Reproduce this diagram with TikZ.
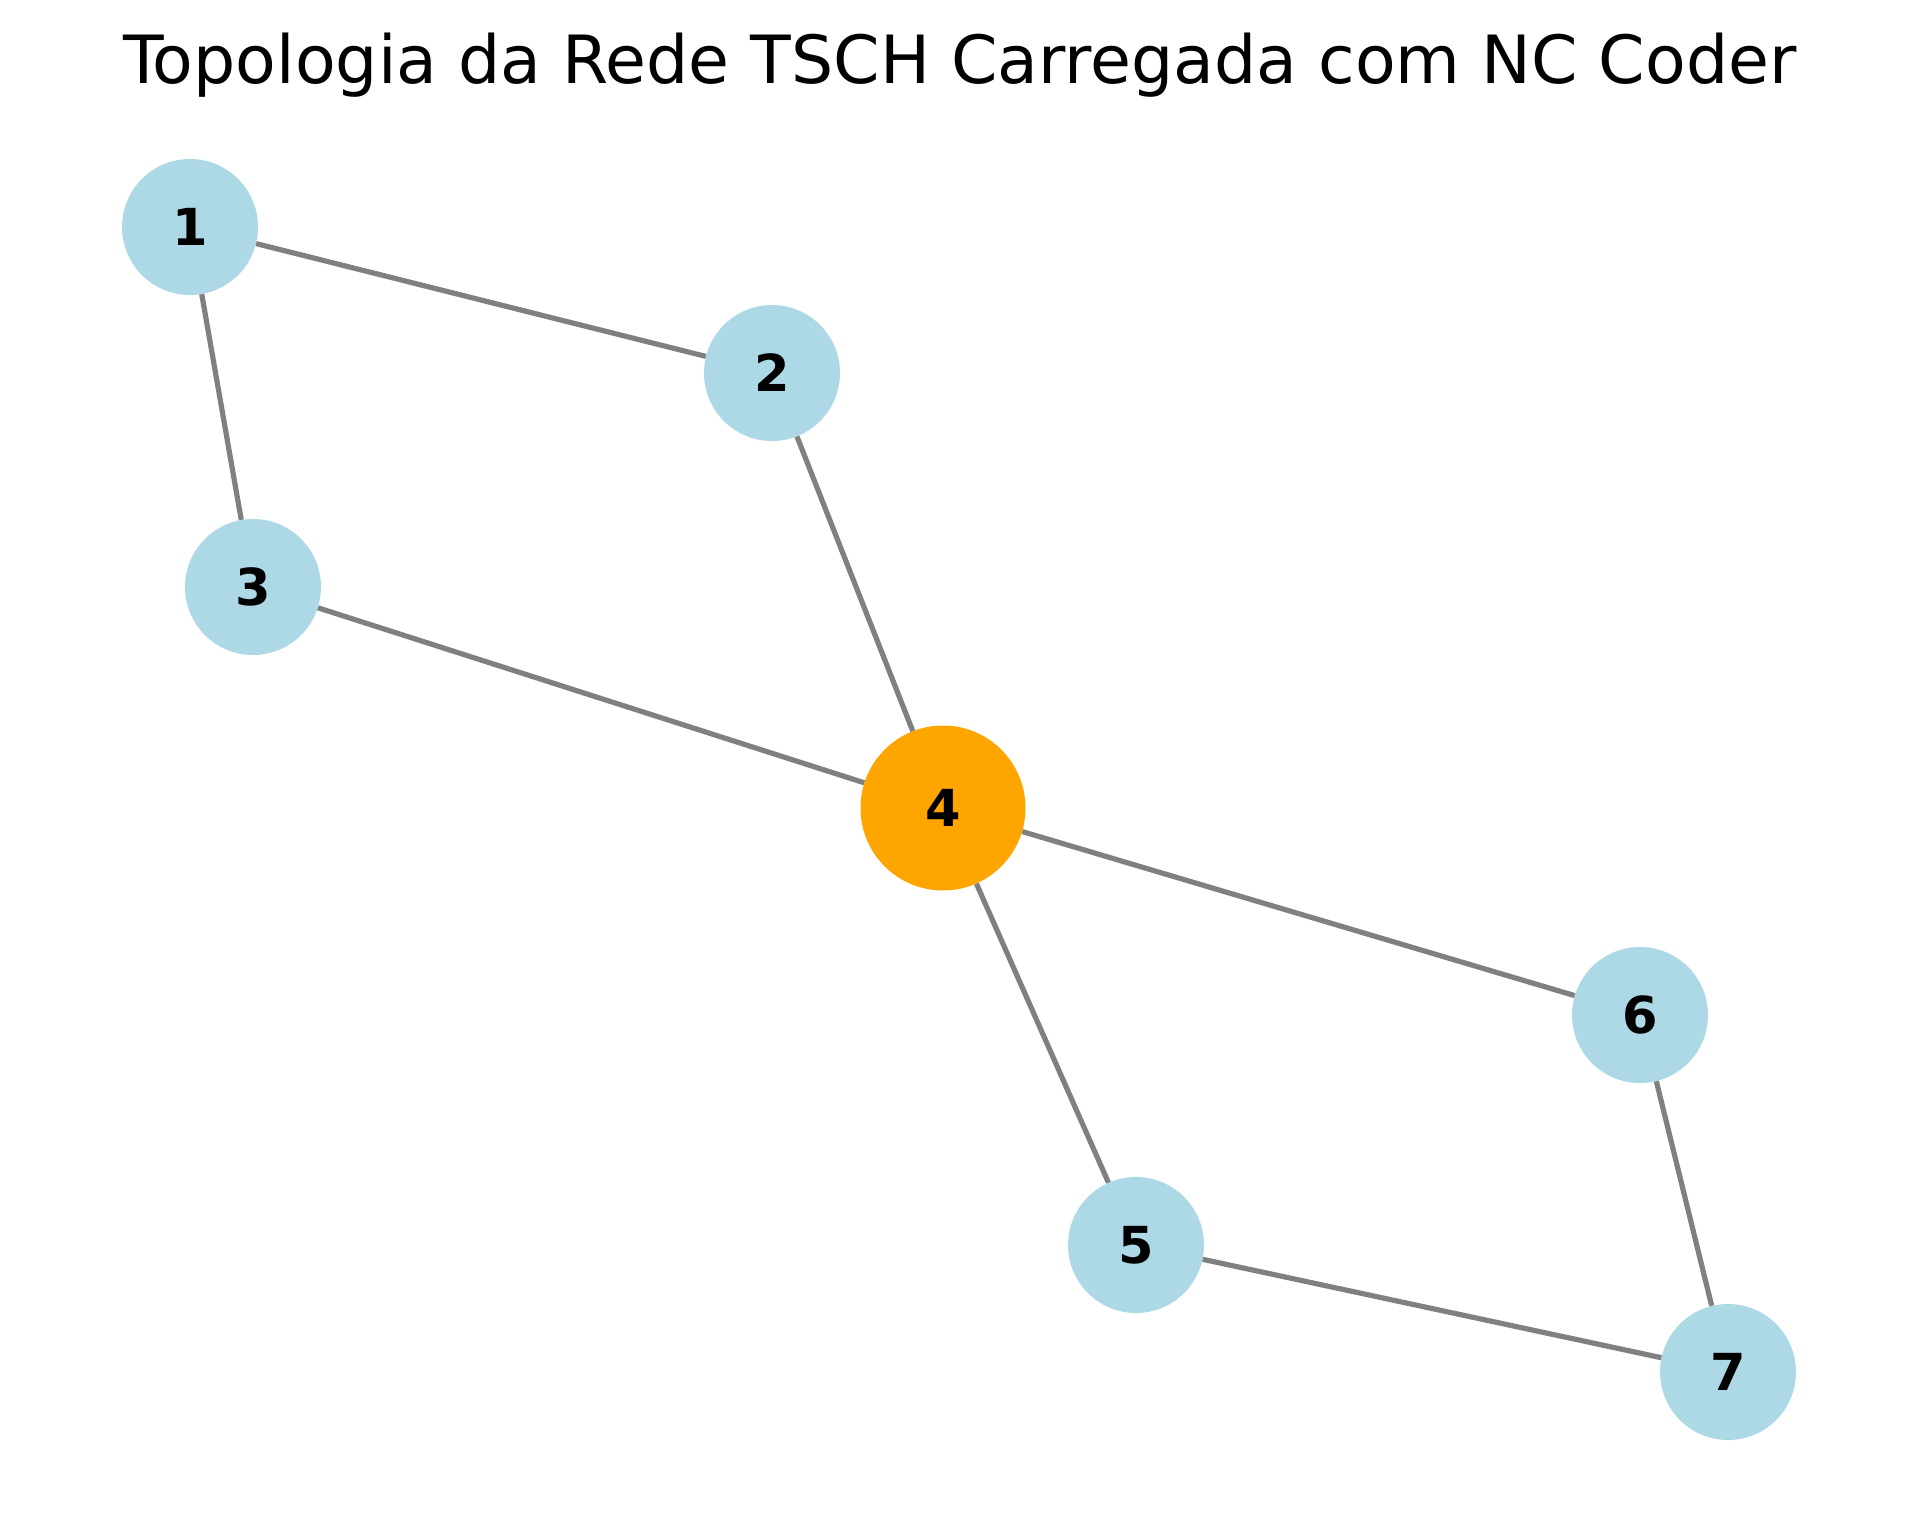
\documentclass[tikz,border=0pt]{standalone}
\usepackage{fontspec}
\setmainfont{DejaVu Sans}
\definecolor{nodeblue}{RGB}{173,216,230}
\definecolor{nodeorange}{RGB}{255,165,0}
\definecolor{edgegray}{RGB}{128,128,128}
\tikzset{
  netnode/.style={circle,fill=nodeblue,minimum size=136pt,inner sep=0pt,font=\fontsize{51}{60}\selectfont\bfseries},
  coder/.style={netnode,fill=nodeorange,minimum size=165pt},
  edge/.style={draw=edgegray,line width=5.2pt}
}
\begin{document}
\begin{tikzpicture}[x=1pt,y=-1pt]
\useasboundingbox (0,0) rectangle (1919,1523);
\node[anchor=base,font=\fontsize{66.5}{80}\selectfont] (title) at (960,83) {Topologia da Rede TSCH Carregada com NC Coder};
\node[netnode] (n1) at (190,227) {1};
\node[netnode] (n2) at (772,373) {2};
\node[netnode] (n3) at (253,587) {3};
\node[coder] (n4) at (943,808) {4};
\node[netnode] (n5) at (1136,1245) {5};
\node[netnode] (n6) at (1640,1015) {6};
\node[netnode] (n7) at (1728,1372) {7};
\path[edge] (n1) -- (n2);
\path[edge] (n1) -- (n3);
\path[edge] (n2) -- (n4);
\path[edge] (n3) -- (n4);
\path[edge] (n4) -- (n5);
\path[edge] (n4) -- (n6);
\path[edge] (n5) -- (n7);
\path[edge] (n6) -- (n7);
\end{tikzpicture}
\end{document}
